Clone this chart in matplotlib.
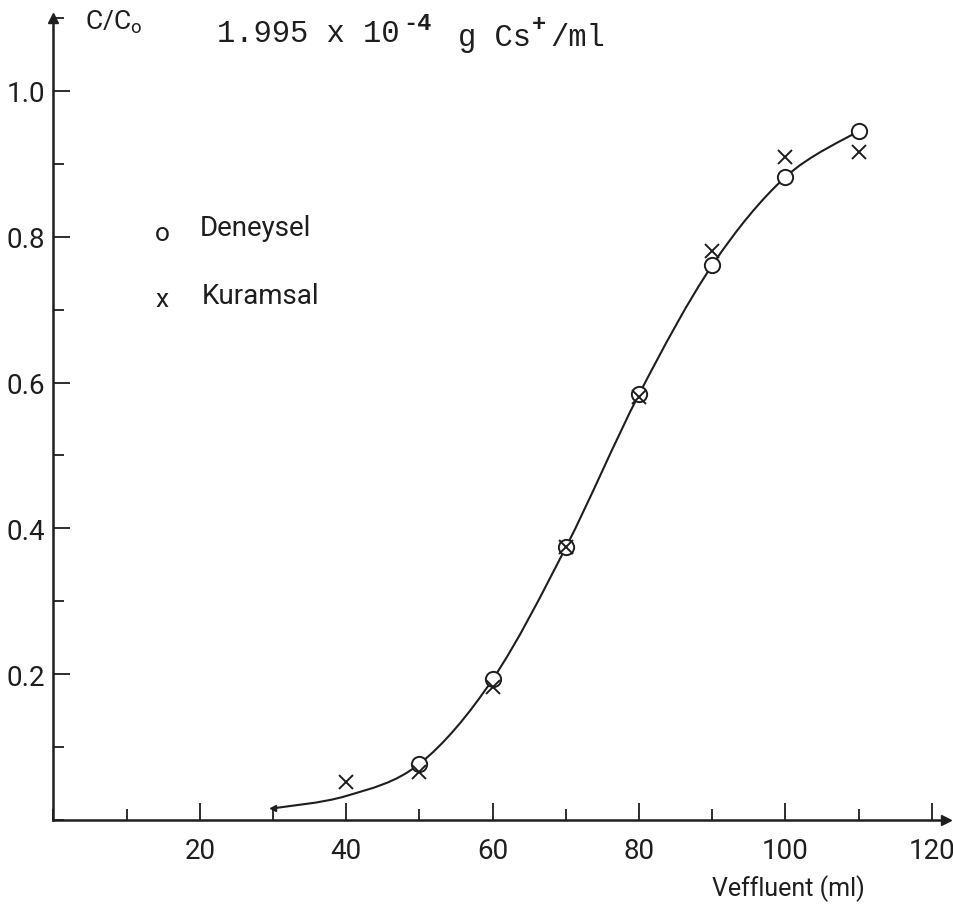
import matplotlib
matplotlib.use("Agg")
import matplotlib.pyplot as plt
from matplotlib.path import Path
from matplotlib.patches import PathPatch
from matplotlib.ticker import MultipleLocator, FixedLocator

# values
v_exp = [50, 60, 70, 80, 90, 100, 110]
c_exp = [0.077, 0.193, 0.374, 0.584, 0.761, 0.882, 0.945]

v_theo = [40, 50, 60, 70, 80, 90, 100, 110]
c_theo = [0.052, 0.066, 0.182, 0.375, 0.580, 0.780, 0.909, 0.916]

# hand drawn curve, read at the same volumes
v_curve = [30, 40, 50, 60, 70, 80, 90, 100, 110]
c_curve = [0.016, 0.033, 0.077, 0.193, 0.374, 0.584, 0.761, 0.882, 0.945]

x_ticks = [20, 40, 60, 80, 100, 120]
y_ticks = [0.2, 0.4, 0.6, 0.8, 1.0]

ink = "#1e1e1e"
letter = dict(family=["Roboto", "DejaVu Sans"], color=ink)
typed = dict(family=["Liberation Mono", "DejaVu Sans Mono"], color=ink)

W, H = 954, 912


def px(x, y):
    return x / W, 1 - y / H


fig = plt.figure(figsize=(9.54, 9.12), dpi=100)
ax = fig.add_axes([53.5 / W, 91 / H, 893 / W, 802 / H])
ax.set_xlim(0, 122)
ax.set_ylim(0, 1.1)

for s in ["top", "right"]:
    ax.spines[s].set_visible(False)
for s in ["left", "bottom"]:
    ax.spines[s].set_linewidth(1.8)
    ax.spines[s].set_color(ink)

# arrow heads at the ends of the axes
ax.plot(1, 0, ">", color=ink, ms=7, transform=ax.transAxes, clip_on=False)
ax.plot(0, 1, "^", color=ink, ms=7, transform=ax.transAxes, clip_on=False)

ax.xaxis.set_major_locator(FixedLocator(x_ticks))
ax.xaxis.set_minor_locator(MultipleLocator(10))
ax.yaxis.set_major_locator(FixedLocator(y_ticks))
ax.yaxis.set_minor_locator(MultipleLocator(0.1))
ax.set_xticklabels([str(t) for t in x_ticks])
ax.set_yticklabels(["%.1f" % t for t in y_ticks])
ax.tick_params(which="both", direction="in", color=ink, width=1.3)
ax.tick_params(which="major", length=12)
ax.tick_params(which="minor", length=8)
ax.tick_params(axis="x", pad=12)
ax.tick_params(axis="y", pad=6)
for lab in ax.get_xticklabels() + ax.get_yticklabels():
    lab.set_fontfamily(letter["family"])
    lab.set_fontsize(20)
    lab.set_color(ink)

# smooth curve through the read points (Catmull-Rom as cubic Bezier)
pts = list(zip(v_curve, c_curve))
verts = [pts[0]]
codes = [Path.MOVETO]
for i in range(len(pts) - 1):
    p0 = pts[i - 1] if i > 0 else pts[i]
    p1 = pts[i]
    p2 = pts[i + 1]
    p3 = pts[i + 2] if i + 2 < len(pts) else pts[i + 1]
    c1 = (p1[0] + (p2[0] - p0[0]) / 6, p1[1] + (p2[1] - p0[1]) / 6)
    c2 = (p2[0] - (p3[0] - p1[0]) / 6, p2[1] - (p3[1] - p1[1]) / 6)
    verts += [c1, c2, p2]
    codes += [Path.CURVE4] * 3
ax.add_patch(PathPatch(Path(verts, codes), fill=False, lw=1.5, edgecolor=ink, zorder=2))
ax.plot(v_curve[0], c_curve[0], "<", color=ink, ms=4, zorder=2)

ax.plot(v_exp, c_exp, "o", ms=11, mfc="white", mec=ink, mew=1.4, ls="none", zorder=3)
ax.plot(v_theo, c_theo, "x", ms=10, color=ink, mew=1.4, ls="none", zorder=4)

# typed heading
fig.text(*px(217, 42), "1.995 x 10", fontsize=22, va="baseline", **typed)
fig.text(*px(403, 30), "-4", fontsize=17, va="baseline", weight="bold", **typed)
fig.text(*px(458, 46), "g Cs", fontsize=22, va="baseline", **typed)
fig.text(*px(532, 31), "+", fontsize=17, va="baseline", weight="bold", **typed)
fig.text(*px(550, 46), "/ml", fontsize=22, va="baseline", **typed)

# hand lettering
fig.text(*px(85, 22), "C/C$_\\mathregular{o}$", fontsize=19, va="center", **letter)
fig.text(*px(162, 234), "o", fontsize=19, ha="center", va="center", **letter)
fig.text(*px(200, 228), "Deneysel", fontsize=20, va="center", **letter)
fig.text(*px(162, 300), "x", fontsize=19, ha="center", va="center", **letter)
fig.text(*px(202, 297), "Kuramsal", fontsize=20, va="center", **letter)
fig.text(*px(712, 889), "Veffluent (ml)", fontsize=18, va="center", **letter)

fig.savefig("out.png", dpi=100, facecolor="white")
